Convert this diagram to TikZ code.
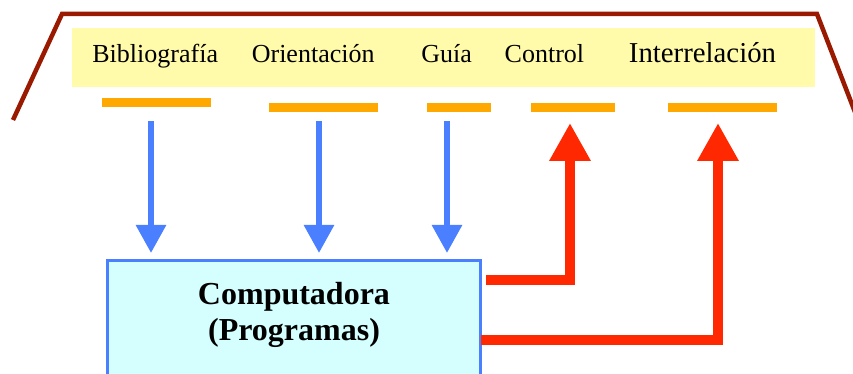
\documentclass[tikz,border=0pt]{standalone}
\usepackage{fontspec}
\setmainfont{Liberation Serif}
\usetikzlibrary{shapes,arrows.meta,positioning}
\definecolor{roofred}{RGB}{153,26,0}
\definecolor{bandyellow}{RGB}{255,251,170}
\definecolor{barorange}{RGB}{255,168,0}
\definecolor{downblue}{RGB}{74,128,255}
\definecolor{upred}{RGB}{255,40,0}
\definecolor{boxcyan}{RGB}{213,255,255}
\tikzstyle{band} = [fill=bandyellow,inner sep=0pt,minimum width=371.5pt,minimum height=29.5pt]
\tikzstyle{tag} = [font=\fontsize{13}{15}\selectfont,inner sep=0pt,anchor=base west]
\tikzstyle{bar} = [fill=barorange,inner sep=0pt,minimum height=4.5pt]
\tikzstyle{comp} = [draw=downblue,fill=boxcyan,line width=1.5pt,anchor=north west,minimum width=186.5pt,minimum height=75pt]
\tikzstyle{down} = [draw=downblue,line width=3pt,-{Triangle[length=14pt,width=14.5pt]}]
\tikzstyle{up} = [draw=upred,line width=5pt,-{Triangle[length=19pt,width=19.5pt]}]

\begin{document}
\begin{tikzpicture}[x=0.5pt,y=-0.5pt]
  \useasboundingbox (0,0) rectangle (853,374);
  \clip (0,0) rectangle (853,374);

  %roof
  \draw[roofred,line width=2.25pt] (13,120) -- (62,14) -- (817,14) -- (860,125);

  %band with the five names
  \node[band] (band) at (443.5,57.5) {};
  \node[tag] (bib) at (92,63) {Bibliografía};
  \node[tag,base right=16.5pt of bib] (ori) {Orientación};
  \node[tag,base right=23pt of ori] (gui) {Guía};
  \node[tag,base right=16pt of gui] (ctl) {Control};
  \node[tag,base right=22pt of ctl,font=\fontsize{14.4}{16}\selectfont] (rel) {Interrelación};

  %bars
  \node[bar,minimum width=54.5pt] (bibbar) at (156.5,102.5) {};
  \node[bar,minimum width=54.5pt] (oribar) at (323.5,107.5) {};
  \node[bar,minimum width=32pt] (guibar) at (459,107.5) {};
  \node[bar,minimum width=42pt] (ctlbar) at (573,107.5) {};
  \node[bar,minimum width=54.5pt] (relbar) at (722.5,107.5) {};

  %computer
  \node[comp] (pc) at (106,259) {};
  \node[align=center,font=\fontsize{16}{18}\selectfont\bfseries] (pctext) at (294,315) {Computadora\\(Programas)};

  %arrow ends
  \coordinate (d1) at (151,121);
  \coordinate (d2) at (319,121);
  \coordinate (d3) at (447,121);
  \coordinate (u1) at (486,280);
  \coordinate (u2) at (481,340);
  \coordinate (t1) at (570,123);
  \coordinate (t2) at (718,123);

  %draw the arrows
  \draw[down] (d1) -- (d1 |- 0,253);
  \draw[down] (d2) -- (d2 |- 0,253);
  \draw[down] (d3) -- (d3 |- 0,253);
  \draw[up] (u1) -| (t1);
  \draw[up] (u2) -| (t2);

\end{tikzpicture}
\end{document}
